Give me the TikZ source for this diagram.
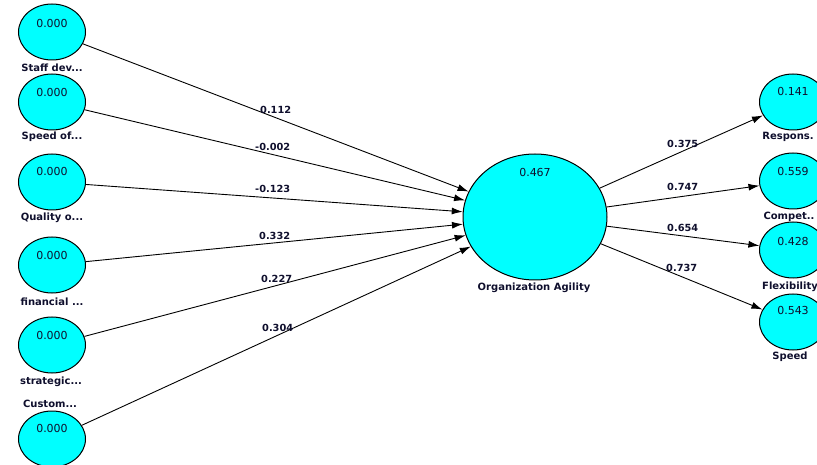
\documentclass[tikz,border=0pt]{standalone}
\usepackage{fontspec}
\setmainfont{DejaVu Sans}
\usetikzlibrary{shapes.geometric,arrows.meta}
\definecolor{lvfill}{RGB}{0,255,255}
\definecolor{ink}{RGB}{15,15,45}
\tikzset{
  lv/.style={ellipse, draw=black, line width=1pt, fill=lvfill,
             minimum width=67pt, minimum height=56pt, inner sep=0pt},
  bigv/.style={lv, minimum width=144pt, minimum height=126pt},
  valtext/.style={font=\fontsize{11}{12}\selectfont, text=ink, inner sep=0pt},
  lvtitle/.style={font=\bfseries\fontsize{10}{11}\selectfont, text=ink, inner sep=0pt},
  coef/.style={font=\bfseries\fontsize{9.8}{11}\selectfont, text=ink, inner sep=0pt, anchor=west},
  link/.style={line width=0.9pt, draw=black, -{Latex[length=11pt,width=7pt]}},
}
\begin{document}
\begin{tikzpicture}[x=1pt,y=-1pt]
\useasboundingbox (0,0) rectangle (817,465);

% exogenous constructs (left column)
\node[lv] (s1) at (52,32)  {};
\node[lv] (s2) at (52,102) {};
\node[lv] (s3) at (52,182) {};
\node[lv] (s4) at (52,265) {};
\node[lv] (s5) at (52,345) {};
\node[lv] (s6) at (52,439) {};

\node[valtext] (v1) at (52,23)  {0.000};
\node[valtext] (v2) at (52,92)  {0.000};
\node[valtext] (v3) at (52,171) {0.000};
\node[valtext] (v4) at (52,255) {0.000};
\node[valtext] (v5) at (52,335) {0.000};
\node[valtext] (v6) at (52,428) {0.000};

\node[lvtitle] (t1) at (52,68)  {Staff dev...};
\node[lvtitle] (t2) at (52,137) {Speed of...};
\node[lvtitle] (t3) at (52,218) {Quality o...};
\node[lvtitle] (t4) at (52,302) {financial ...};
\node[lvtitle] (t5) at (51,382) {strategic...};
\node[lvtitle] (t6) at (50,404) {Custom...};

% central construct
\node[bigv] (oa) at (535,217) {};
\node[valtext] (voa) at (535,172) {0.467};
\node[lvtitle] (toa) at (534,288) {Organization Agility};

% endogenous dimensions (right column)
\node[lv] (r1) at (793,102) {};
\node[lv] (r2) at (793,181) {};
\node[lv] (r3) at (793,250) {};
\node[lv] (r4) at (793,322) {};

\node[valtext] (w1) at (793,91)  {0.141};
\node[valtext] (w2) at (793,171) {0.559};
\node[valtext] (w3) at (793,241) {0.428};
\node[valtext] (w4) at (793,310) {0.543};

\node[lvtitle] (u1) at (788,137) {Respons.};
\node[lvtitle] (u2) at (789,217) {Compet..};
\node[lvtitle] (u3) at (790,287) {Flexibility};
\node[lvtitle] (u4) at (790,357) {Speed};

% structural paths
\draw[link] (s1) -- (oa);
\draw[link] (s2) -- (oa);
\draw[link] (s3) -- (oa);
\draw[link] (s4) -- (oa);
\draw[link] (s5) -- (oa);
\draw[link] (s6) -- (oa);
\draw[link] (oa) -- (r1);
\draw[link] (oa) -- (r2);
\draw[link] (oa) -- (r3);
\draw[link] (oa) -- (r4);

% path coefficients
\node[coef] (c1) at (260,110) {0.112};
\node[coef] (c2) at (255,147) {-0.002};
\node[coef] (c3) at (255,189) {-0.123};
\node[coef] (c4) at (259,236) {0.332};
\node[coef] (c5) at (261,279) {0.227};
\node[coef] (c6) at (262,328) {0.304};
\node[coef] (d1) at (667,144) {0.375};
\node[coef] (d2) at (667,187) {0.747};
\node[coef] (d3) at (667,228) {0.654};
\node[coef] (d4) at (666,268) {0.737};
\end{tikzpicture}
\end{document}
